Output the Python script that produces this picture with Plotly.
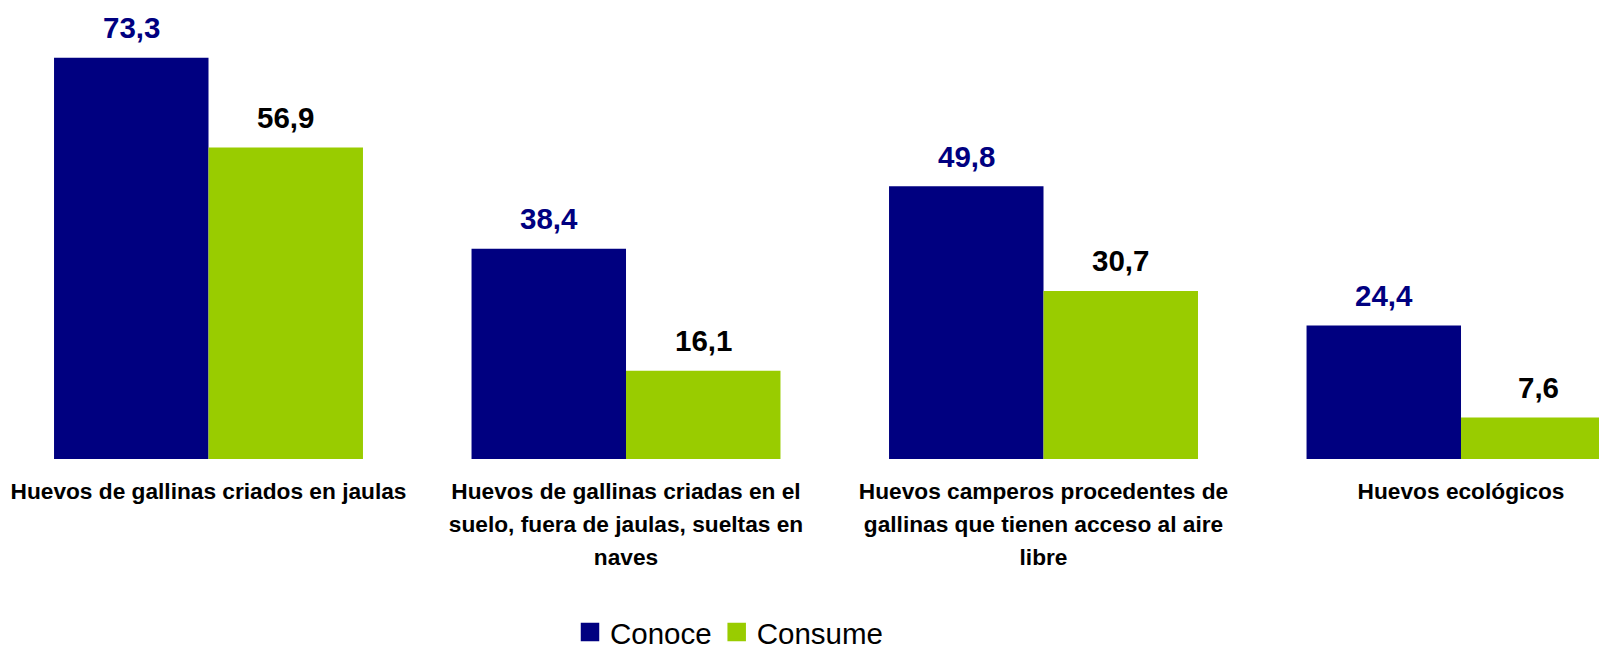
import plotly.graph_objects as go

# ---- data ----
category_keys = ["jaulas", "suelo", "camperos", "ecologicos"]
category_lines = [
    ["Huevos de gallinas criados en jaulas"],
    ["Huevos de gallinas criadas en el", "suelo, fuera de jaulas, sueltas en", "naves"],
    ["Huevos camperos procedentes de", "gallinas que tienen acceso al aire", "libre"],
    ["Huevos ecológicos"],
]
series_names = ["Conoce", "Consume"]
conoce = [73.3, 38.4, 49.8, 24.4]
consume = [56.9, 16.1, 30.7, 7.6]

# ---- style ----
FONT = "Liberation Sans, Arial, sans-serif"
NAVY = "#000080"
GREEN = "#99CC00"
colors = [NAVY, GREEN]
label_colors = [NAVY, "#000000"]
BARGAP = 0.26


def fmt(v):
    return f"{v:.1f}".replace(".", ",")


ticktext = [
    "<br>".join(f'<span style="font-size:22.7px">{ln}</span>' for ln in lines)
    for lines in category_lines
]

fig = go.Figure()
for name, vals, col in zip(series_names, [conoce, consume], colors):
    fig.add_trace(go.Bar(x=category_keys, y=vals, name=name, marker=dict(color=col, line=dict(width=0)),
                         showlegend=False, hoverinfo="x+y"))
# legend entries
for name, col in zip(series_names, colors):
    fig.add_trace(go.Scatter(x=[None], y=[None], mode="markers", name=name,
                             marker=dict(symbol="square", size=16, color=col, line=dict(color=col, width=2.5)),
                             showlegend=True))

off = (1 - BARGAP) / 4
annotations = []
for s, vals in enumerate([conoce, consume]):
    for i, v in enumerate(vals):
        annotations.append(dict(
            x=i + (-off if s == 0 else off), y=v, xref="x", yref="y",
            text=fmt(v), showarrow=False, yanchor="middle", yshift=30,
            font=dict(family=FONT, size=29.5, color=label_colors[s], weight="bold"),
        ))

fig.update_layout(
    width=1599, height=650,
    margin=dict(l=0, r=0, t=21, b=190.5, autoexpand=False),
    paper_bgcolor="white", plot_bgcolor="white",
    bargap=BARGAP, bargroupgap=0, barmode="group",
    annotations=annotations,
    showlegend=True,
    legend=dict(orientation="h", x=570 / 1599, xanchor="left", y=-0.396, yanchor="middle",
                font=dict(family=FONT, size=29.5, color="black"), bgcolor="rgba(0,0,0,0)",
                itemclick=False, itemdoubleclick=False),
    xaxis=dict(type="category", range=[-0.4994, 3.3305], tickmode="array", tickvals=category_keys,
               ticktext=ticktext, showgrid=False, zeroline=False, showline=False, ticks="",
               ticklabelstandoff=14,
               tickfont=dict(family=FONT, size=25.3, color="black", weight="bold")),
    yaxis=dict(range=[0, 80], visible=False, showgrid=False, zeroline=False),
    font=dict(family=FONT),
)

fig.write_html("out.html", config={"displayModeBar": False},
               post_script="document.body.style.margin='0';document.body.style.overflow='hidden';")
